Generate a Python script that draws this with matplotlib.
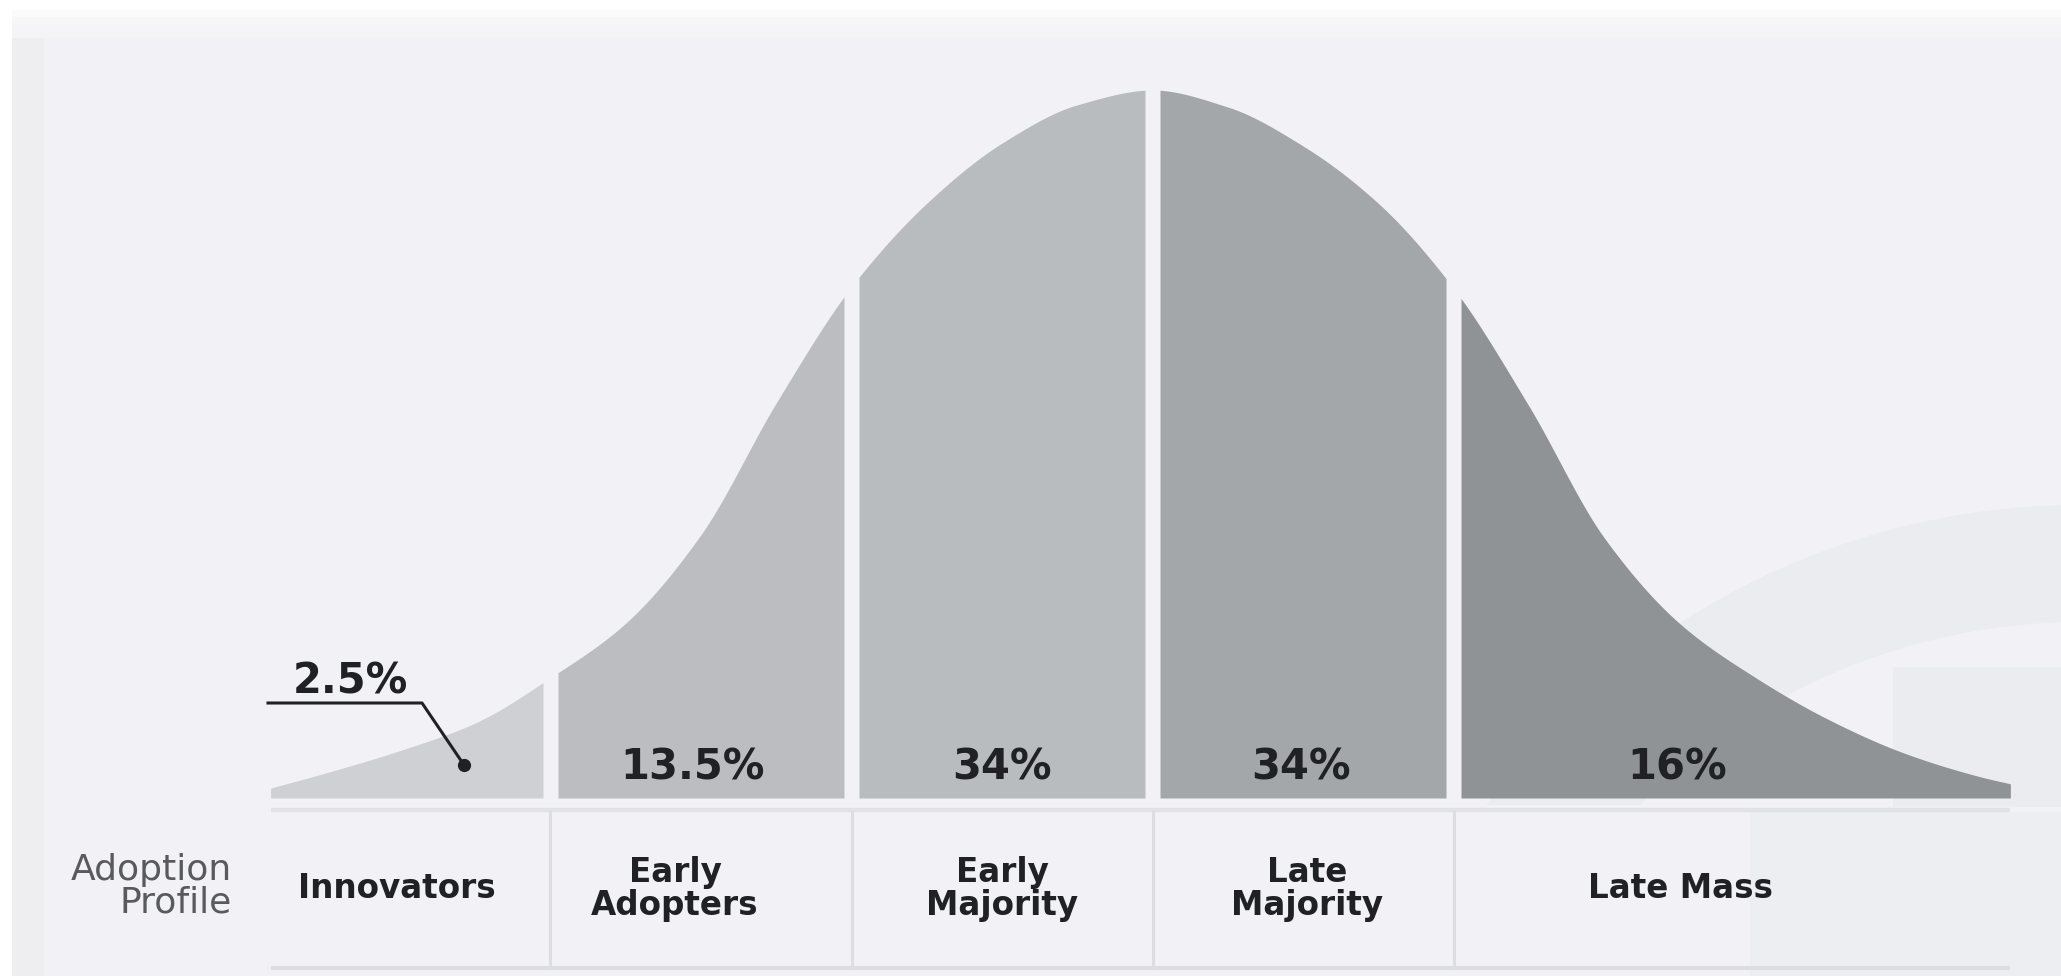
import numpy as np
import matplotlib
matplotlib.use("Agg")
import matplotlib.pyplot as plt
from matplotlib.patches import Rectangle, Wedge

# ---------------- data ----------------
categories = ["Innovators", "Early\nAdopters", "Early\nMajority", "Late\nMajority", "Late Mass"]
share_labels = ["2.5%", "13.5%", "34%", "34%", "16%"]
boundaries_sd = [-2.0, -1.0, 0.0, 1.0]          # segment borders (standard deviations)
row_title = "Adoption\nProfile"

# bell curve: position (SD) and relative height
curve_sd = [-2.93, -2.75, -2.50, -2.25, -2.00, -1.75, -1.50, -1.25, -1.00, -0.75,
            -0.50, -0.25, 0.00, 0.25, 0.50, 0.75, 1.00, 1.25, 1.50, 1.75,
            2.00, 2.25, 2.50, 2.75, 2.85]
curve_height = [0.014, 0.035, 0.067, 0.106, 0.170, 0.247, 0.372, 0.558, 0.722, 0.840,
                0.925, 0.979, 1.000, 0.976, 0.921, 0.840, 0.720, 0.554, 0.368, 0.247,
                0.171, 0.110, 0.063, 0.030, 0.020]

# ---------------- style / layout ----------------
segment_colors = ["#cfd0d3", "#bbbdc0", "#b9bcbf", "#a4a7aa", "#909396"]
BG = "#f2f2f6"
DARK = "#202124"

W, H = 2061, 976
X0, SD_PX = 1152.5, 301        # pixel of the mean, pixels per SD
BASE_PX, PEAK_PX = 798, 708    # pixel row of the baseline, pixel height of the peak


def hz(py):
    return (BASE_PX - py) / PEAK_PX


def zx(px):
    return (px - X0) / SD_PX


def smooth_outline(x, y, xq):
    """Monotone cubic (PCHIP) drawing of the outline through the read points."""
    x = np.asarray(x, float)
    y = np.asarray(y, float)
    h = np.diff(x)
    d = np.diff(y) / h
    m = np.zeros_like(y)
    for k in range(1, len(x) - 1):
        if d[k - 1] * d[k] > 0:
            w1 = 2 * h[k] + h[k - 1]
            w2 = h[k] + 2 * h[k - 1]
            m[k] = (w1 + w2) / (w1 / d[k - 1] + w2 / d[k])
    m[0], m[-1] = d[0], d[-1]
    idx = np.clip(np.searchsorted(x, xq, side="right") - 1, 0, len(h) - 1)
    t = (xq - x[idx]) / h[idx]
    h00 = 2 * t**3 - 3 * t**2 + 1
    h10 = t**3 - 2 * t**2 + t
    h01 = -2 * t**3 + 3 * t**2
    h11 = t**3 - t**2
    return h00 * y[idx] + h10 * h[idx] * m[idx] + h01 * y[idx + 1] + h11 * h[idx] * m[idx + 1]


fig = plt.figure(figsize=(W / 100, H / 100), dpi=100, facecolor="white")

# background axes in pixel units
bg = fig.add_axes([0, 0, 1, 1], zorder=0)
bg.set_xlim(0, W)
bg.set_ylim(H, 0)
bg.axis("off")
bg.add_patch(Rectangle((12, 10), W, H, color=BG, lw=0))
bg.add_patch(Rectangle((12, 10), 32, H, color="#eeeef1", lw=0))
for i, c in enumerate(["#fafafa", "#f7f7f8", "#f5f5f7", "#f4f4f6"]):
    bg.add_patch(Rectangle((12, 10 + i * 7), W, 7, color=c, lw=0))
# faint watermark at the lower right
clip = Rectangle((0, 0), W, 805, transform=bg.transData)
ring = Wedge((2080, 1242), 737, 0, 360, width=117, color="#eaecef", lw=0)
bg.add_patch(ring)
ring.set_clip_path(clip)
bg.add_patch(Rectangle((1893, 667), 200, 140, color="#eaecef", lw=0))
bg.add_patch(Rectangle((1750, 812), 320, 170, color="#eceef1", lw=0))

# main axes: x in SD, y in relative height
ax = fig.add_axes([0, 0, 1, 1], zorder=1)
ax.set_xlim(zx(0), zx(W))
ax.set_ylim(hz(H), hz(0))
ax.axis("off")
ax.patch.set_alpha(0)

cz = np.array(curve_sd)
ch = np.array(curve_height)
gap = 7.5 / SD_PX
edges = [cz[0]] + boundaries_sd + [cz[-1]]
for i in range(len(categories)):
    a = edges[i] + (gap if i > 0 else 0)
    b = edges[i + 1] - (gap if i < len(categories) - 1 else 0)
    xs = np.linspace(a, b, 300)
    ys = smooth_outline(cz, ch, xs)
    ax.fill_between(xs, 0, ys, color=segment_colors[i], lw=0)

# table lines
ax.plot([cz[0], cz[-1]], [hz(810), hz(810)], color="#e1e2e6", lw=3.2, solid_capstyle="butt")
ax.plot([cz[0], cz[-1]], [hz(968), hz(968)], color="#dcdde1", lw=3, solid_capstyle="butt")
for bnd in boundaries_sd:
    ax.plot([bnd, bnd], [hz(812), hz(968)], color="#dddee2", lw=2.2)

# percentages
pct_x = [zx(350), zx(693), zx(1002), zx(1301), zx(1677)]
for i, lab in enumerate(share_labels):
    y = hz(693) if i == 0 else hz(779)
    ax.text(pct_x[i], y, lab, ha="center", va="baseline", fontsize=30,
            fontweight="bold", color=DARK, family="DejaVu Sans")

# leader for the innovators share
ax.plot([zx(268), zx(422), zx(464)], [hz(703), hz(703), hz(765)], color=DARK, lw=2.2)
ax.plot([zx(464)], [hz(765)], "o", ms=8.5, color=DARK)

# category names
lab_x = [zx(397), zx(675), zx(1002), zx(1307), zx(1680)]
for i, cat in enumerate(categories):
    ax.text(lab_x[i], hz(889), cat, ha="center", va="center", fontsize=23.5,
            fontweight="bold", color=DARK, linespacing=1.0, family="DejaVu Sans")

ax.text(zx(232), hz(886), row_title, ha="right", va="center", multialignment="right",
        fontsize=26, color="#595a5d", linespacing=0.95, family="DejaVu Sans")

fig.savefig("out.png", dpi=100, facecolor="white")
